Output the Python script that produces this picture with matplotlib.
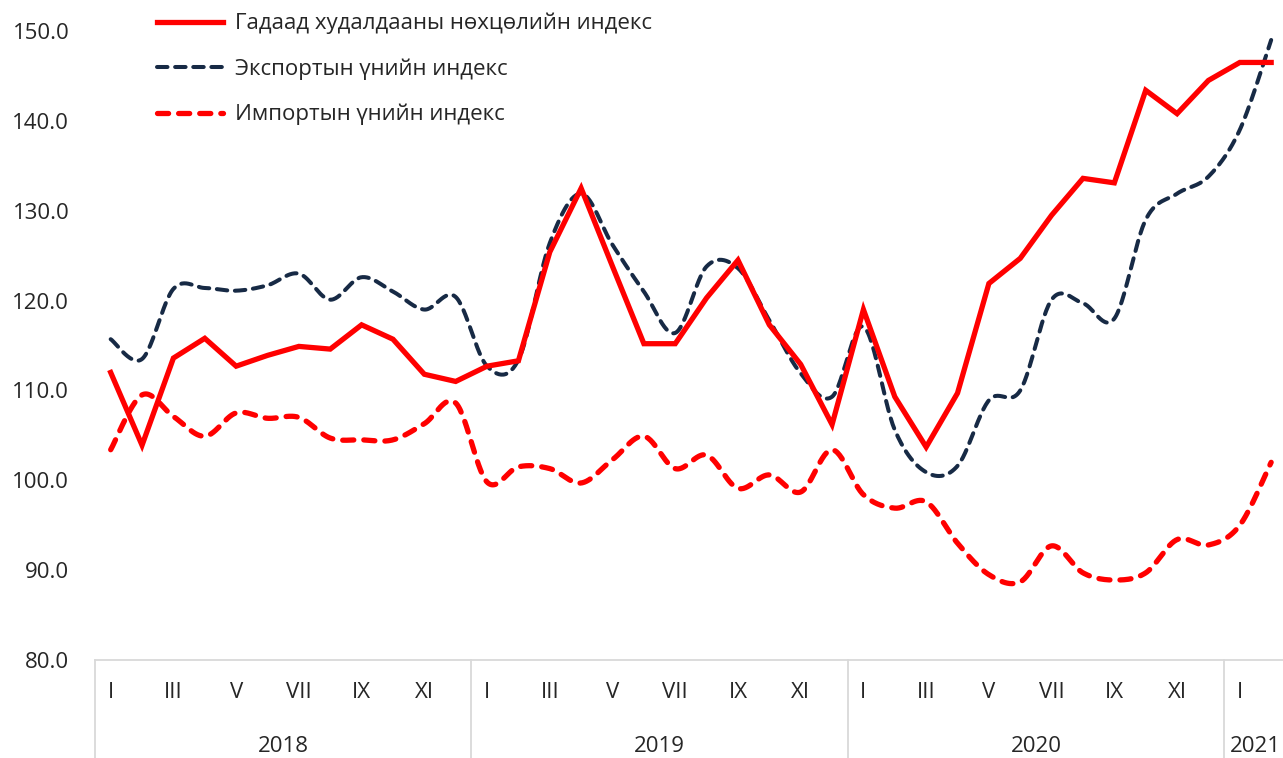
import numpy as np
import matplotlib
matplotlib.use("Agg")
import matplotlib.pyplot as plt
from matplotlib.lines import Line2D
import matplotlib.transforms as mtransforms

plt.rcParams['font.family'] = ['Open Sans', 'DejaVu Sans']

# ---------------- data ----------------
years = ["2018", "2019", "2020", "2021"]
months_per_year = [12, 12, 12, 2]
roman = ["I", "II", "III", "IV", "V", "VI", "VII", "VIII", "IX", "X", "XI", "XII"]

trade = [112.0, 103.9, 113.6, 115.8, 112.7, 113.9, 114.9, 114.6, 117.3, 115.7, 111.8, 111.0,
         112.7, 113.3, 125.4, 132.5, 123.8, 115.2, 115.2, 120.3, 124.5, 117.3, 112.9, 106.2,
         119.0, 109.3, 103.7, 109.7, 121.9, 124.7, 129.5, 133.6, 133.1, 143.4, 140.8, 144.5,
         146.5, 146.5]

export = [115.7, 113.5, 121.3, 121.4, 121.1, 121.7, 123.0, 120.1, 122.6, 121.0, 119.0, 120.4,
          112.7, 113.4, 126.4, 131.9, 126.2, 121.0, 116.4, 123.8, 123.6, 117.8, 111.9, 109.3,
          117.1, 105.6, 100.9, 101.6, 108.9, 110.0, 120.1, 119.7, 118.0, 129.0, 131.9, 133.8,
          139.0, 149.0]

imports = [103.4, 109.5, 107.1, 104.9, 107.5, 106.9, 107.0, 104.7, 104.5, 104.5, 106.3, 108.6,
           99.8, 101.5, 101.3, 99.7, 102.3, 104.9, 101.3, 102.8, 99.1, 100.6, 98.7, 103.4,
           98.4, 96.9, 97.6, 93.0, 89.5, 88.7, 92.7, 89.7, 88.9, 89.7, 93.4, 92.8,
           95.0, 102.0]

labels = ["Гадаад худалдааны нөхцөлийн индекс",
          "Экспортын үнийн индекс",
          "Импортын үнийн индекс"]

yticks = [80, 90, 100, 110, 120, 130, 140, 150]

RED = "#FF0000"
NAVY = "#172A45"
TXT = "#262626"
GRID = "#D9D9D9"
FS = 16.0


def smooth(y, n=30):
    """Bezier (Catmull-Rom style) smoothing like spreadsheet smoothed lines."""
    x = np.arange(len(y), dtype=float)
    y = np.asarray(y, dtype=float)
    P = np.column_stack([x, y])
    out = []
    for i in range(len(P) - 1):
        p0 = P[i - 1] if i > 0 else P[i]
        p1 = P[i]
        p2 = P[i + 1]
        p3 = P[i + 2] if i + 2 < len(P) else P[i + 1]
        c1 = p1 + (p2 - p0) / 6.0
        c2 = p2 - (p3 - p1) / 6.0
        t = np.linspace(0, 1, n)[:, None]
        seg = ((1 - t) ** 3) * p1 + 3 * ((1 - t) ** 2) * t * c1 + 3 * (1 - t) * t ** 2 * c2 + t ** 3 * p2
        if i > 0:
            seg = seg[1:]
        out.append(seg)
    out = np.vstack(out)
    return out[:, 0], out[:, 1]


fig = plt.figure(figsize=(12.83, 7.58), dpi=100)
ax = fig.add_axes([95 / 1283, 98 / 758, (1283 - 95) / 1283 + 0.003, (660 - 31) / 758])

n = len(trade)
x = np.arange(n)

ax.plot(x, trade, color=RED, lw=3.8, solid_joinstyle='miter', label=labels[0], zorder=3)
ex, ey = smooth(export)
ax.plot(ex, ey, color=NAVY, lw=2.9, dashes=(2.6, 1.9), dash_capstyle='round',
        label=labels[1], zorder=2)
ix, iy = smooth(imports)
ax.plot(ix, iy, color=RED, lw=3.8, dashes=(2.1, 1.9), dash_capstyle='round',
        label=labels[2], zorder=2)

ax.set_xlim(-0.5, n - 0.5)
ax.set_ylim(80, 150)

for s in ["top", "right", "left"]:
    ax.spines[s].set_visible(False)
ax.spines["bottom"].set_color(GRID)
ax.spines["bottom"].set_linewidth(1.3)

ax.set_yticks(yticks, [f"{v:.1f}" for v in yticks])
ax.tick_params(axis='y', length=0, pad=18.5, labelsize=FS, labelcolor=TXT)
ax.set_xticks([])

# multi-level category axis
trans = mtransforms.blended_transform_factory(ax.transData, ax.transAxes)
axh = 629.0
start = 0
for yr, m in zip(years, months_per_year):
    for k in range(0, m, 2):
        ax.text(start + k, -33 / axh, roman[k], transform=trans, ha='center', va='center',
                fontsize=FS, color=TXT)
    ax.text(start + (m - 1) / 2.0, -86 / axh, yr, transform=trans, ha='center', va='center',
            fontsize=FS, color=TXT)
    ax.add_line(Line2D([start - 0.5, start - 0.5], [0, -110 / axh], transform=trans,
                       color=GRID, lw=1.3, clip_on=False))
    start += m
ax.add_line(Line2D([start - 0.5, start - 0.5], [0, -110 / axh], transform=trans,
                   color=GRID, lw=1.3, clip_on=False))

leg = ax.legend(loc='upper left', bbox_to_anchor=(139 / 1283, 1 + 5 / 758),
                bbox_transform=fig.transFigure, frameon=False, fontsize=FS,
                handlelength=3.0, handletextpad=0.5, labelspacing=1.08,
                borderpad=0.3)
for t in leg.get_texts():
    t.set_color(TXT)

fig.savefig("out.png", dpi=100)
